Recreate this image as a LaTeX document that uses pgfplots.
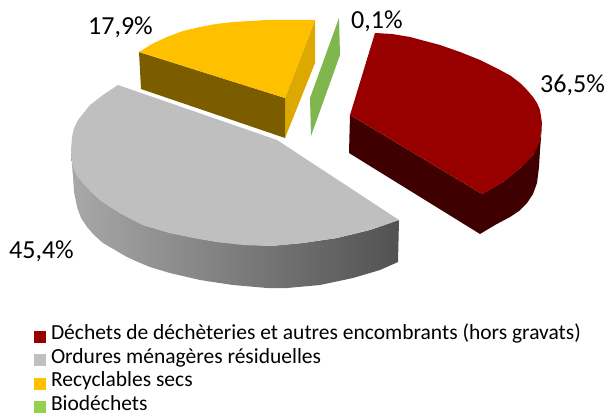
\documentclass[border=0pt]{standalone}
\usepackage{fontspec}
\setmainfont{Carlito}
\usepackage{pgfplots}
\pgfplotsset{compat=1.18}
\definecolor{cred}{HTML}{980000}
\definecolor{credd}{HTML}{3E0000}
\definecolor{cgray}{HTML}{BFBFBF}
\definecolor{cyel}{HTML}{FFC000}
\definecolor{cyeld}{HTML}{7B5D00}
\definecolor{cyelr}{HTML}{DDA800}
\definecolor{cgrn}{HTML}{7FB64E}
\definecolor{cgrnl}{HTML}{92D050}
\begin{document}
\begin{tikzpicture}
\path[use as bounding box] (0,0) rectangle (607pt,414pt);
\begin{axis}[
  at={(0,0)}, anchor=south west,
  scale only axis, width=607pt, height=414pt,
  xmin=0, xmax=607, ymin=0, ymax=414, y dir=reverse,
  hide axis, clip=false,
  legend image code/.code={\fill[draw=none,#1] (0pt,-3.4pt) rectangle (12pt,8.6pt);},
  legend cell align=left,
  legend style={at={(axis cs:34,323.5)}, anchor=north west, draw=none, fill=none,
    inner sep=0pt, outer sep=0pt, row sep=4.1pt, column sep=0pt,
    font=\fontsize{21.5}{24}\selectfont,
    nodes={inner sep=0pt, outer sep=0pt, text height=16pt, text depth=2.5pt, anchor=base west}},
]
\addlegendimage{fill=cred,draw=none}
\addlegendentry{\hspace{5pt}Déchets de déchèteries et autres encombrants (hors gravats)}
\addlegendimage{fill=cgray,draw=none}
\addlegendentry{\hspace{5pt}Ordures ménagères résiduelles}
\addlegendimage{fill=cyel,draw=none}
\addlegendentry{\hspace{5pt}Recyclables secs}
\addlegendimage{fill=cgrnl,draw=none}
\addlegendentry{\hspace{5pt}Biodéchets}

% grey: side wall
\addplot[forget plot, draw=none, left color=black!34, right color=black!68] coordinates {
 (71,150)(72,165)(73,177)(74,192)(77,207)(81,218)(87,227)(94,235)(103,243)(115,250)(127,257)(138,262)(150,267)(170,273)(200,280)(233,285)(267,288)(287,288)(320,285)(353,278)(380,270)(398,262)(399,220)(370,230)(337,238)(303,243)(270,246)(217,242)(170,233)(143,225)(120,213)(100,200)(83,183)(73,167)
} -- cycle;
% grey: top face
\addplot[forget plot, draw=none, fill=cgray] coordinates {
 (118,85)(103,95)(90,105)(78,120)(74,128)(72,137)(71,150)(73,167)(77,176)(83,183)(91,192)(100,200)(110,207)(120,213)(131,219)(143,225)(156,229)(170,233)(193,238)(217,242)(243,245)(270,246)(303,243)(337,238)(370,230)(399,220)(277,140)
} -- cycle;

% yellow
\addplot[forget plot, draw=none, fill=cyelr] coordinates {(285,98)(315,20)(315,63)(285,138)} -- cycle;
\addplot[forget plot, draw=none, fill=cyeld] coordinates {(139,52)(285,98)(285,138)(141,89)} -- cycle;
\addplot[forget plot, draw=none, fill=cyel] coordinates {
 (139,52)(152,44)(167,37)(183,31)(200,27)(216,24)(233,22)(250,21)(267,20)(290,20)(315,20)(285,98)
} -- cycle;

% green
\addplot[forget plot, draw=none, fill=cgrn] coordinates {(339,18)(340,55)(311,136)(310,98)} -- cycle;

% red
\addplot[forget plot, draw=none, fill=credd] coordinates {
 (350,115)(482,194)(503,182)(520,168)(533,155)(540,140)(542,123)(541,138)(540,150)(539,167)(537,183)(533,194)(527,203)(519,211)(510,217)(495,225)(480,234)(349,153)
} -- cycle;
\addplot[forget plot, draw=none, fill=cred] coordinates {
 (375,33)(392,34)(410,37)(425,41)(440,45)(460,52)(480,60)(500,70)(511,76)(520,83)(527,90)(533,97)(537,103)(540,110)(542,123)(541,132)(540,140)(537,148)(533,155)(527,162)(520,168)(512,175)(503,182)(493,188)(482,194)(350,115)
} -- cycle;

% labels
\node[anchor=base west, inner sep=0pt, font=\fontsize{26}{30}\selectfont] at (axis cs:88,35) {17,9\%};
\node[anchor=base west, inner sep=0pt, font=\fontsize{26}{30}\selectfont] at (axis cs:351,29) {0,1\%};
\node[anchor=base west, inner sep=0pt, font=\fontsize{26}{30}\selectfont] at (axis cs:540,93) {36,5\%};
\node[anchor=base west, inner sep=0pt, font=\fontsize{26}{30}\selectfont] at (axis cs:9,258) {45,4\%};
\end{axis}
\end{tikzpicture}
\end{document}
